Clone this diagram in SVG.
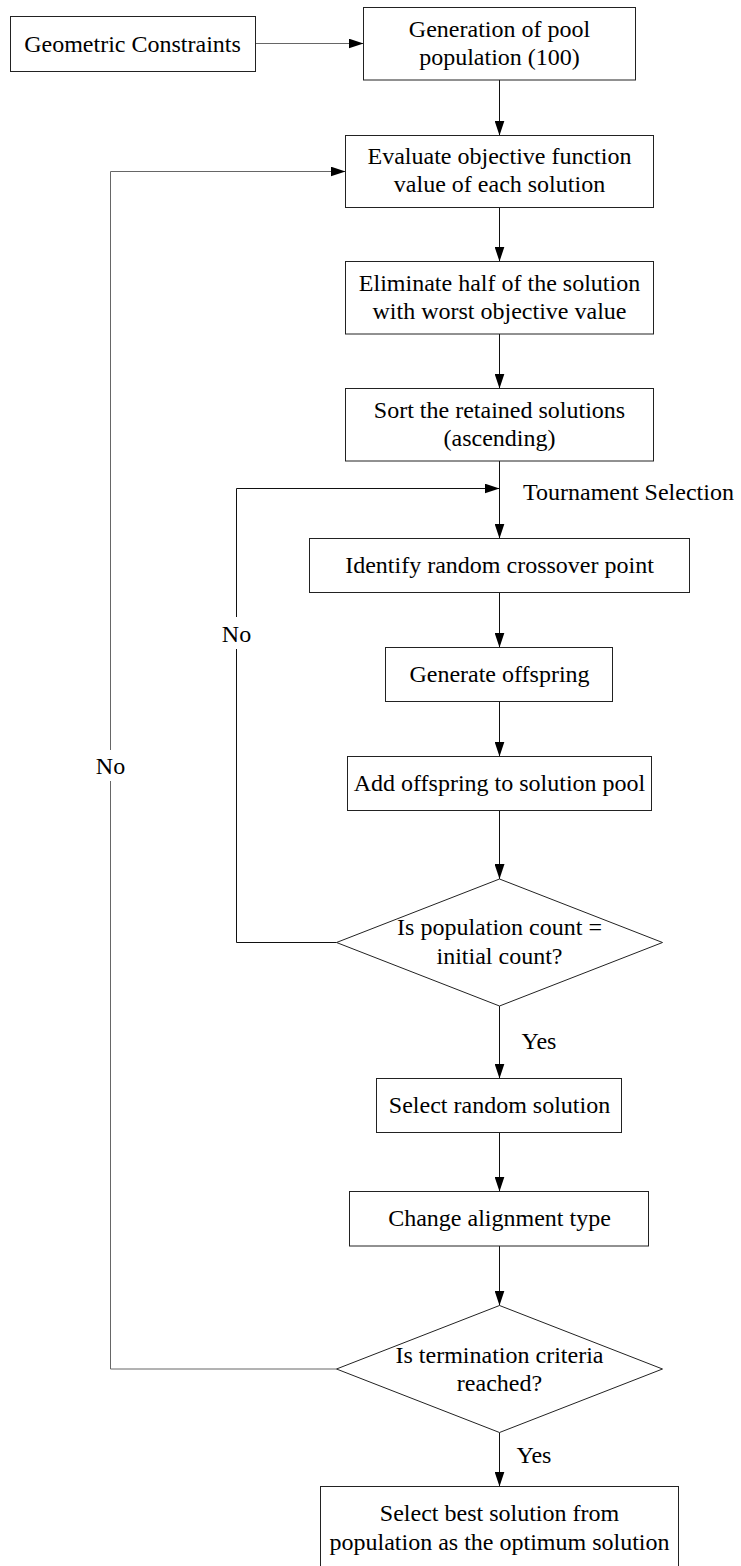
<svg xmlns="http://www.w3.org/2000/svg" width="741" height="1566" viewBox="0 0 741 1566">
  <style>
    .box { fill: #fff; stroke: #222; stroke-width: 1; }
    .lbl { font-family: "Liberation Serif", "Times New Roman", serif; font-size: 24px; fill: #000; }
    .mid { text-anchor: middle; }
    .wire { fill: none; stroke: #111; stroke-width: 1; }
    .wire-soft { fill: none; stroke: #666; stroke-width: 1; }
    .arrow { marker-end: url(#head); }
  </style>
  <defs>
    <marker id="head" markerUnits="userSpaceOnUse" markerWidth="16" markerHeight="10" refX="15" refY="5" orient="auto">
      <path d="M0,0 L15,5 L0,10 z" fill="#000"/>
    </marker>
  </defs>
  <rect width="741" height="1566" fill="#fff"/>

  <!-- connectors -->
  <g id="connectors">
    <path class="wire-soft arrow" d="M255.5,43.5 H363.5"/>
    <path class="wire arrow" d="M499.5,80 V135.5"/>
    <path class="wire arrow" d="M499.5,207.5 V261.5"/>
    <path class="wire arrow" d="M499.5,334 V388.5"/>
    <path class="wire arrow" d="M499.5,461 V538.5"/>
    <path class="wire arrow" d="M499.5,592.5 V647.5"/>
    <path class="wire arrow" d="M499.5,701.5 V756.5"/>
    <path class="wire arrow" d="M499.5,810.5 V879"/>
    <path class="wire arrow" d="M499.5,1006 V1078.5"/>
    <path class="wire arrow" d="M499.5,1132.5 V1191.5"/>
    <path class="wire arrow" d="M499.5,1246 V1305.5"/>
    <path class="wire arrow" d="M499.5,1432.5 V1486.5"/>
    <!-- inner loop: back to tournament selection -->
    <path class="wire" d="M336.5,942.5 H236.5 V649"/>
    <path class="wire arrow" d="M236.5,617 V488.5 H499.5"/>
    <!-- outer loop: back to evaluation -->
    <path class="wire-soft" d="M336.5,1369 H110.5 V781"/>
    <path class="wire-soft arrow" d="M110.5,750 V171.5 H345.5"/>
    <text class="lbl" x="523" y="500">Tournament Selection</text>
    <text class="lbl mid" x="236.5" y="641.5">No</text>
    <text class="lbl mid" x="110.5" y="774">No</text>
    <text class="lbl" x="521.5" y="1048.5">Yes</text>
    <text class="lbl" x="516.5" y="1462.5">Yes</text>
  </g>

  <g id="geometric-constraints">
    <rect class="box" x="10.5" y="16.5" width="245" height="55"/>
    <text class="lbl mid" x="132.5" y="51.5">Geometric Constraints</text>
  </g>

  <g id="generate-pool">
    <rect class="box" x="363.5" y="7.5" width="272" height="72.5"/>
    <text class="lbl mid" x="499.5" y="36.5">Generation of pool</text>
    <text class="lbl mid" x="499.5" y="65">population (100)</text>
  </g>

  <g id="evaluate">
    <rect class="box" x="345.5" y="135.5" width="308" height="72"/>
    <text class="lbl mid" x="499.5" y="163.5">Evaluate objective function</text>
    <text class="lbl mid" x="499.5" y="192">value of each solution</text>
  </g>

  <g id="eliminate">
    <rect class="box" x="345.5" y="261.5" width="308" height="72.5"/>
    <text class="lbl mid" x="499.5" y="290.5">Eliminate half of the solution</text>
    <text class="lbl mid" x="499.5" y="319">with worst objective value</text>
  </g>

  <g id="sort">
    <rect class="box" x="345.5" y="388.5" width="308" height="72.5"/>
    <text class="lbl mid" x="499.5" y="417.5">Sort the retained solutions</text>
    <text class="lbl mid" x="499.5" y="446">(ascending)</text>
  </g>

  <g id="crossover">
    <rect class="box" x="309.5" y="538.5" width="380" height="54"/>
    <text class="lbl mid" x="499.5" y="573">Identify random crossover point</text>
  </g>

  <g id="offspring">
    <rect class="box" x="385.5" y="647.5" width="227" height="54"/>
    <text class="lbl mid" x="499.5" y="682">Generate offspring</text>
  </g>

  <g id="add-offspring">
    <rect class="box" x="347.5" y="756.5" width="304" height="54"/>
    <text class="lbl mid" x="499.5" y="791">Add offspring to solution pool</text>
  </g>

  <g id="count-check">
    <polygon class="box" points="499.5,879 662.5,942.5 499.5,1006 336.5,942.5"/>
    <text class="lbl mid" x="499.5" y="935">Is population count =</text>
    <text class="lbl mid" x="499.5" y="963.5">initial count?</text>
  </g>

  <g id="select-random">
    <rect class="box" x="376.5" y="1078.5" width="245" height="54"/>
    <text class="lbl mid" x="499.5" y="1113">Select random solution</text>
  </g>

  <g id="change-alignment">
    <rect class="box" x="349.5" y="1191.5" width="299" height="54.5"/>
    <text class="lbl mid" x="499.5" y="1226">Change alignment type</text>
  </g>

  <g id="termination-check">
    <polygon class="box" points="499.5,1305.5 662.5,1369 499.5,1432.5 336.5,1369"/>
    <text class="lbl mid" x="499.5" y="1362.5">Is termination criteria</text>
    <text class="lbl mid" x="499.5" y="1391">reached?</text>
  </g>

  <g id="best-solution">
    <rect class="box" x="320.5" y="1486.5" width="358" height="90"/>
    <text class="lbl mid" x="499.5" y="1521">Select best solution from</text>
    <text class="lbl mid" x="499.5" y="1550">population as the optimum solution</text>
  </g>
</svg>
